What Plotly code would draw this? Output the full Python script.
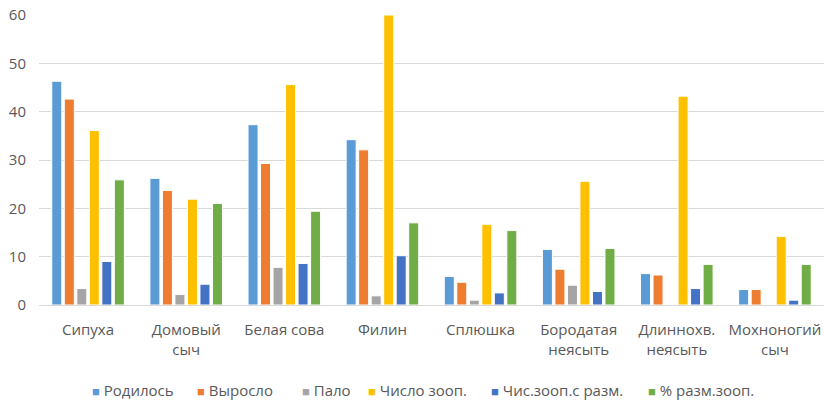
import plotly.graph_objects as go

categories = ["Сипуха", "Домовый<br>сыч", "Белая сова", "Филин", "Сплюшка",
              "Бородатая<br>неясыть", "Длиннохв.<br>неясыть", "Мохноногий<br>сыч"]

rodilos = [46.3, 26.2, 37.3, 34.2, 5.9, 11.5, 6.5, 3.2]
vyroslo = [42.6, 23.7, 29.3, 32.1, 4.7, 7.4, 6.2, 3.2]
palo = [3.4, 2.2, 7.8, 1.9, 1.0, 4.1, 0, 0]
chislo_zoop = [36.1, 21.9, 45.6, 60.0, 16.7, 25.6, 43.2, 14.2]
chis_zoop_razm = [9.0, 4.3, 8.6, 10.2, 2.5, 2.8, 3.4, 1.0]
pct_razm_zoop = [25.9, 21.0, 19.4, 17.0, 15.4, 11.7, 8.4, 8.4]

series_names = ["Родилось", "Выросло", "Пало", "Число зооп.", "Чис.зооп.с разм.", "% разм.зооп."]
series_values = [rodilos, vyroslo, palo, chislo_zoop, chis_zoop_razm, pct_razm_zoop]
colors = ["#5B9BD5", "#ED7D31", "#A5A5A5", "#FFC000", "#4472C4", "#70AD47"]

font_family = "Open Sans, Noto Sans, sans-serif"

W, H = 824, 400
ML, MR, MT, MB = 39, 0, 15, 95

fig = go.Figure()
for name, vals, col in zip(series_names, series_values, colors):
    fig.add_trace(go.Bar(
        x=categories, y=vals, name=name, showlegend=False,
        marker=dict(color=col, line=dict(color="white", width=1)),
    ))

# Legend drawn as text entries (Excel-style compact legend)
legend_px = [90, 195, 300, 366, 489, 646]
annotations = []
for name, col, px in zip(series_names, colors, legend_px):
    annotations.append(dict(
        xref="paper", yref="paper",
        x=(px - ML) / (W - ML - MR), y=-(390 - (H - MB)) / (H - MT - MB),
        xanchor="left", yanchor="middle", showarrow=False,
        text=f"<span style='color:{col};font-size:13px'>■</span> {name}",
        font=dict(family=font_family, size=15, color="#595959"),
    ))

fig.update_layout(
    width=W, height=H,
    margin=dict(l=ML, r=MR, t=MT, b=MB),
    paper_bgcolor="white", plot_bgcolor="white",
    barmode="group", bargap=0.235, bargroupgap=0.2,
    font=dict(family=font_family, size=15, color="#595959"),
    showlegend=False,
    annotations=annotations,
    xaxis=dict(showgrid=False, showline=True, linecolor="#d9d9d9", linewidth=1,
               automargin=False, ticks="", ticklabelstandoff=11,
               tickfont=dict(size=15, color="#595959")),
    yaxis=dict(range=[0, 60], dtick=10, showgrid=True, gridcolor="#d9d9d9", gridwidth=1,
               automargin=False, zeroline=False, showline=False, ticks="",
               ticklabelstandoff=12, tickfont=dict(size=15, color="#595959")),
)

fig.write_html("out.html")
